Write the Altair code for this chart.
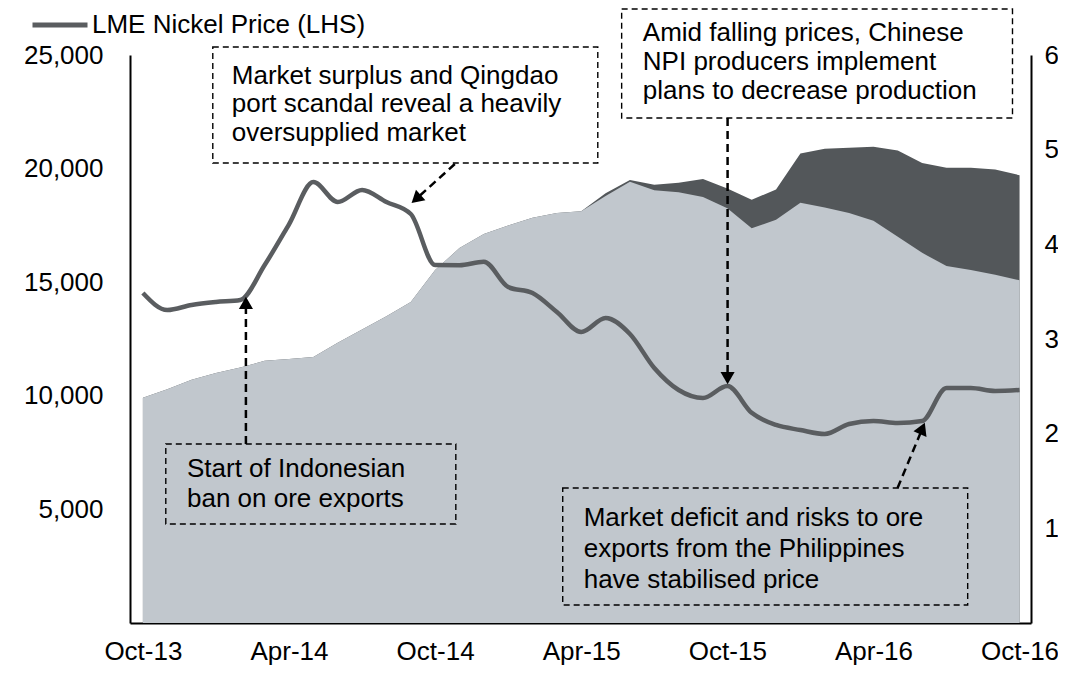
import altair as alt
import pandas as pd

FONT = "Liberation Sans"
LINE_COLOR = "#5a5d60"
DARK_COLOR = "#53575a"
LIGHT_COLOR = "#c1c7cd"

# ---- data (month index 0 = Oct-13 ... 36 = Oct-16) ----
months = list(range(37))
tick_values = [0, 6, 12, 18, 24, 30, 36]
tick_labels = ["Oct-13", "Apr-14", "Oct-14", "Apr-15", "Oct-15", "Apr-16", "Oct-16"]

nickel_price = [14525, 13776, 13996, 14128, 14217, 15757, 17550, 19410, 18530, 19058,
                18530, 18002, 15757, 15750, 15900, 14789, 14525, 13688, 12808, 13424,
                12720, 11224, 10255, 9903, 10431, 9250, 8715, 8495, 8319, 8759,
                8891, 8803, 8891, 10343, 10343, 10211, 10255]

light_series = [2.38, 2.47, 2.57, 2.64, 2.70, 2.77, 2.79, 2.81, 2.96, 3.10,
                3.24, 3.39, 3.73, 3.96, 4.11, 4.20, 4.28, 4.33, 4.35, 4.51,
                4.66, 4.57, 4.55, 4.50, 4.38, 4.17, 4.26, 4.44, 4.39, 4.33,
                4.25, 4.08, 3.91, 3.77, 3.73, 3.68, 3.62]

dark_series = [0, 0, 0, 0, 0, 0, 0, 0, 0, 0,
               0, 0, 0, 0, 0, 0, 0, 0, 0.0, 0.03,
               0.02, 0.06, 0.10, 0.19, 0.21, 0.30, 0.32, 0.52, 0.62, 0.69,
               0.78, 0.91, 0.95, 1.04, 1.08, 1.11, 1.11]

left_ticks = [5000, 10000, 15000, 20000, 25000]
right_ticks = [1, 2, 3, 4, 5, 6]
legend_name = "LME Nickel Price (LHS)"

# ---- annotations (in data units: month, price) ----
box_x0 = [2.87, 19.66, 0.94, 17.24]
box_x1 = [18.68, 35.71, 12.85, 33.87]
box_y0 = [25352, 27025, 7878, 5942]
box_y1 = [20246, 22227, 4357, 792]

note_text = ["Market surplus and Qingdao", "port scandal reveal a heavily", "oversupplied market",
             "Amid falling prices, Chinese", "NPI producers implement", "plans to decrease production",
             "Start of Indonesian", "ban on ore exports",
             "Market deficit and risks to ore", "exports from the Philippines", "have stabilised price"]
note_x = [3.65, 3.65, 3.65, 20.53, 20.53, 20.53, 1.81, 1.81, 18.10, 18.10, 18.10]
note_y = [24076, 22843, 21567, 25968, 24692, 23415, 6778, 5458, 4621, 3257, 1893]

arrow_x0 = [12.81, 24.01, 4.23, 30.99]
arrow_y0 = [20202, 22227, 7878, 5942]
arrow_x1 = [11.22, 24.01, 4.23, 32.01]
arrow_y1 = [18662, 10783, 14085, 8561]
arrow_angle = [228, 180, 0, 23]

# ---- tables ----
df = pd.DataFrame({"month": months, "price": nickel_price,
                   "light": light_series, "dark": dark_series})
df["total"] = df["light"] + df["dark"]
df["series"] = legend_name

boxes = pd.DataFrame({"x0": box_x0, "x1": box_x1, "y0": box_y0, "y1": box_y1})
notes = pd.DataFrame({"x": note_x, "y": note_y, "txt": note_text})
arrows = pd.DataFrame({"x0": arrow_x0, "y0": arrow_y0, "x1": arrow_x1,
                       "y1": arrow_y1, "ang": arrow_angle})

# ---- scales / axes ----
xscale = alt.Scale(domain=[-0.53, 36.47], nice=False, zero=False)
pscale = alt.Scale(domain=[0, 25000], nice=False, zero=True)
vscale = alt.Scale(domain=[0, 6], nice=False, zero=True)

label_arr = "[" + ",".join("'" + t + "'" for t in tick_labels) + "]"
x_axis = alt.Axis(values=tick_values, labelExpr=label_arr + "[round(datum.value/6)]",
                  ticks=False, tickSize=0, labelPadding=15, grid=False, title=None,
                  domainColor="black", domainWidth=2, labelFontSize=26,
                  labelFont=FONT, labelColor="black")
left_axis = alt.Axis(orient="left", values=left_ticks, labelExpr="format(datum.value, ',')",
                     ticks=False, tickSize=0,
                     labelPadding=27, grid=False, title=None, domainColor="black",
                     domainWidth=2, labelFontSize=26, labelFont=FONT, labelColor="black")
right_axis = alt.Axis(orient="right", values=right_ticks, ticks=False, tickSize=0,
                      labelPadding=13, grid=False, title=None, domainColor="black",
                      domainWidth=2, labelFontSize=26, labelFont=FONT, labelColor="black")

X = alt.X("month:Q", scale=xscale, axis=x_axis)

dark_area = alt.Chart(df).mark_area(color=DARK_COLOR).encode(
    x=X, y=alt.Y("total:Q", scale=vscale, axis=right_axis))
light_area = alt.Chart(df).mark_area(color=LIGHT_COLOR).encode(
    x=X, y=alt.Y("light:Q", scale=vscale, axis=right_axis))
areas = alt.layer(dark_area, light_area)

line = alt.Chart(df).mark_line(strokeWidth=4.5, interpolate="monotone").encode(
    x=X,
    y=alt.Y("price:Q", scale=pscale, axis=left_axis),
    color=alt.Color("series:N",
                    scale=alt.Scale(domain=[legend_name], range=[LINE_COLOR]),
                    legend=alt.Legend(orient="none", legendX=-100, legendY=-60, title=None,
                                      symbolType="stroke", symbolStrokeWidth=5,
                                      symbolSize=3025, labelFontSize=26, labelFont=FONT,
                                      labelColor="black", padding=0, labelOffset=2,
                                      labelLimit=0)))

box_layer = alt.Chart(boxes).mark_rect(fillOpacity=0, stroke="black", strokeWidth=1.4,
                                       strokeDash=[6, 4]).encode(
    x=alt.X("x0:Q", scale=xscale, axis=x_axis), x2="x1:Q",
    y=alt.Y("y0:Q", scale=pscale, axis=left_axis), y2="y1:Q")

text_layer = alt.Chart(notes).mark_text(align="left", baseline="middle", fontSize=26,
                                        font=FONT, color="black").encode(
    x=alt.X("x:Q", scale=xscale, axis=x_axis),
    y=alt.Y("y:Q", scale=pscale, axis=left_axis),
    text="txt:N")

rule_layer = alt.Chart(arrows).mark_rule(strokeDash=[8, 5], strokeWidth=2.5, color="black").encode(
    x=alt.X("x0:Q", scale=xscale, axis=x_axis), x2="x1:Q",
    y=alt.Y("y0:Q", scale=pscale, axis=left_axis), y2="y1:Q")

head_layer = alt.Chart(arrows).mark_point(shape="triangle-up", filled=True, size=200,
                                          color="black", opacity=1).encode(
    x=alt.X("x1:Q", scale=xscale, axis=x_axis),
    y=alt.Y("y1:Q", scale=pscale, axis=left_axis),
    angle=alt.Angle("ang:Q", scale=None))

front = alt.layer(line, box_layer, text_layer, rule_layer, head_layer)

chart = alt.layer(areas, front).resolve_scale(y="independent").properties(
    width=901, height=568,
    autosize=alt.AutoSizeParams(type="none"),
    padding={"left": 122, "top": 47, "right": 27, "bottom": 43},
).configure_view(stroke=None)

chart.save("out.html", embed_options={"renderer": "svg", "actions": False})
